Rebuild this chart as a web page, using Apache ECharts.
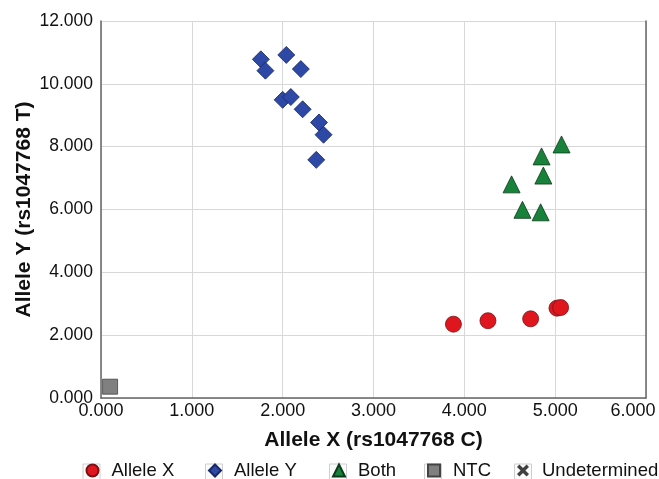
<!DOCTYPE html>
<html>
<head>
<meta charset="utf-8">
<script src="https://cdn.jsdelivr.net/npm/echarts@6/dist/echarts.min.js"></script>
<style>
  html, body { margin: 0; padding: 0; background: #fff; }
  #chart { width: 659px; height: 479px; }
</style>
</head>
<body>
<div id="chart"></div>
<script>
// 数据
var alleleX = [[3.88, 2.35], [4.26, 2.46], [4.73, 2.52], [5.02, 2.86], [5.06, 2.88]];
var alleleY = [[1.76, 10.78], [1.81, 10.42], [2.04, 10.92], [2.20, 10.47], [2.00, 9.49],
               [2.09, 9.58], [2.22, 9.19], [2.40, 8.77], [2.45, 8.38], [2.37, 7.58]];
var both = [[5.07, 8.07], [4.85, 7.69], [4.87, 7.08], [4.52, 6.80], [4.64, 5.99], [4.84, 5.91]];
var ntc = [[0.10, 0.36]];
var undetermined = [];
var seriesNames = ['Allele X', 'Allele Y', 'Both', 'NTC', 'Undetermined'];

// 图例位置（图标中心x）
var legendCenters = [91.5, 214, 338, 433, 523];

var crossPath = 'path://M2,0 L5,3 L8,0 L10,2 L7,5 L10,8 L8,10 L5,7 L2,10 L0,8 L3,5 L0,2 Z';
var font = 'Liberation Sans, Arial, sans-serif';

var chart = echarts.init(document.getElementById('chart'));

var legends = [];
var boxes = [];
seriesNames.forEach(function (name, i) {
    legends.push({
        data: [name],
        left: legendCenters[i] - 6 - 5,
        top: 456,
        itemWidth: 12,
        itemHeight: 12,
        selectedMode: false,
        textStyle: { fontSize: 18.5, color: '#111', fontFamily: font, padding: [0, 0, 0, 8] }
    });
    // 图例小方框
    boxes.push({
        type: 'rect',
        z: 0,
        shape: { x: legendCenters[i] - 8.5, y: 464, width: 17, height: 17 },
        style: { fill: '#fbfbfb', stroke: '#cfcfcf', lineWidth: 1 }
    });
});

var option = {
    animation: false,
    textStyle: { fontFamily: font },
    grid: { left: 101, right: 13, top: 21, bottom: 81, outerBoundsMode: 'none' },
    graphic: boxes,
    legend: legends,
    xAxis: {
        type: 'value',
        min: 0, max: 6, interval: 1,
        name: 'Allele X (rs1047768 C)',
        nameLocation: 'middle',
        nameGap: 32,
        nameMoveOverlap: false,
        nameTextStyle: { fontSize: 21, fontWeight: 'bold', color: '#111' },
        axisLine: { lineStyle: { color: '#666', width: 1.5 } },
        axisTick: { show: false },
        axisLabel: {
            fontSize: 18, color: '#111', margin: 4,
            formatter: function (v) {
                // 最后一个标签向左移，避免被裁切
                return v === 6 ? '{last|' + v.toFixed(3) + '}' : v.toFixed(3);
            },
            rich: { last: { fontSize: 18, color: '#111', padding: [0, 26, 0, 0] } }
        },
        splitLine: { lineStyle: { color: '#d8d8d8' } }
    },
    yAxis: [{
        type: 'value',
        min: 0, max: 12, interval: 2,
        name: 'Allele Y (rs1047768 T)',
        nameLocation: 'middle',
        nameGap: 66,
        nameMoveOverlap: false,
        nameTextStyle: { fontSize: 21, fontWeight: 'bold', color: '#111' },
        axisLine: { show: true, lineStyle: { color: '#666', width: 1.5 } },
        axisTick: { show: false },
        axisLabel: { fontSize: 17.5, color: '#111', margin: 8,
                     formatter: function (v) { return v.toFixed(3); } },
        splitLine: { lineStyle: { color: '#d8d8d8' } }
    }, {
        type: 'value',
        position: 'right',
        min: 0, max: 12,
        axisLine: { show: true, lineStyle: { color: '#666', width: 1.5 } },
        axisTick: { show: false },
        axisLabel: { show: false },
        splitLine: { show: false }
    }],
    series: [{
        name: 'Allele X',
        type: 'scatter',
        symbol: 'circle',
        symbolSize: 16,
        itemStyle: { color: '#e0161f', borderColor: '#7a1115', borderWidth: 0.8, opacity: 1 },
        data: alleleX
    }, {
        name: 'Allele Y',
        type: 'scatter',
        symbol: 'diamond',
        symbolSize: 17,
        itemStyle: { color: '#2e48a6', borderColor: '#172766', borderWidth: 0.8, opacity: 1 },
        data: alleleY
    }, {
        name: 'Both',
        type: 'scatter',
        symbol: 'triangle',
        symbolSize: 17,
        itemStyle: { color: '#18823a', borderColor: '#0c3a1a', borderWidth: 0.8, opacity: 1 },
        data: both
    }, {
        name: 'NTC',
        type: 'scatter',
        symbol: 'rect',
        symbolSize: 15,
        itemStyle: { color: '#808080', borderColor: '#444', borderWidth: 0.8, opacity: 1 },
        data: ntc
    }, {
        name: 'Undetermined',
        type: 'scatter',
        symbol: crossPath,
        symbolSize: 10,
        itemStyle: { color: '#111' },
        data: undetermined
    }]
};

chart.setOption(option);
</script>
</body>
</html>
